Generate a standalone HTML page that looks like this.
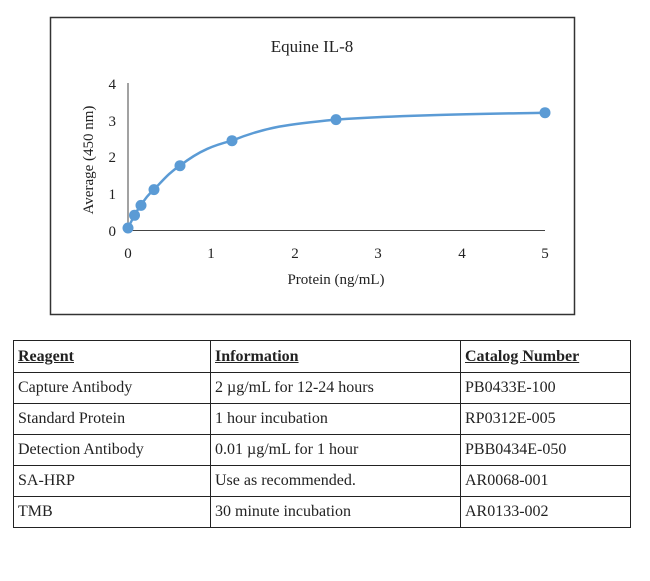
<!DOCTYPE html>
<html><head><style>
body{margin:0;background:#fff;width:650px;height:581px;position:relative;font-family:"Liberation Serif",serif;}
table{position:absolute;left:13px;top:340px;border-collapse:collapse;font-size:16px;color:#222;}
td{border:1.5px solid #222;height:30px;padding:0 0 0 4px;}
.h td{text-decoration:underline;font-weight:bold;height:31px;}
</style></head><body>
<svg width="650" height="340" style="position:absolute;left:0;top:0" font-family="Liberation Serif, serif">
<rect x="50.5" y="17.5" width="524" height="297" fill="#fff" stroke="#333" stroke-width="1.5"/>
<text x="312" y="52" font-size="17" text-anchor="middle" fill="#222">Equine IL-8</text>
<line x1="128" y1="83" x2="128" y2="231" stroke="#444" stroke-width="1"/>
<line x1="128" y1="230.5" x2="545" y2="230.5" stroke="#444" stroke-width="1"/>
<g font-size="15" fill="#222" text-anchor="end">
<text x="116" y="236">0</text><text x="116" y="199">1</text><text x="116" y="162">2</text><text x="116" y="126">3</text><text x="116" y="89">4</text></g>
<g font-size="15" fill="#222" text-anchor="middle">
<text x="128" y="258">0</text><text x="211" y="258">1</text><text x="295" y="258">2</text><text x="378" y="258">3</text><text x="462" y="258">4</text><text x="545" y="258">5</text></g>
<text x="336" y="284" font-size="15" text-anchor="middle" fill="#222">Protein (ng/mL)</text>
<text transform="translate(93,160) rotate(-90)" font-size="15" text-anchor="middle" fill="#222">Average (450 nm)</text>
<path d="M128,228 C131,222 133,218 134.5,215.3 C137,210 139,208 141,205.4 C146,197 150,193 154,189.6 C165,178 170,172 180,165.7 C200,150 215,145 232,140.7 C265,127 290,124 336,119.6 C400,115 480,114 545,112.7" fill="none" stroke="#5b9bd5" stroke-width="2.5"/>
<g fill="#5b9bd5">
<circle cx="128" cy="228" r="5.5"/><circle cx="134.5" cy="215.3" r="5.5"/><circle cx="141" cy="205.4" r="5.5"/><circle cx="154" cy="189.6" r="5.5"/><circle cx="180" cy="165.7" r="5.5"/><circle cx="232" cy="140.7" r="5.5"/><circle cx="336" cy="119.6" r="5.5"/><circle cx="545" cy="112.7" r="5.5"/></g>
</svg>
<table>
<tr class="h"><td style="width:192px">Reagent</td><td style="width:245px">Information</td><td style="width:165px">Catalog Number</td></tr>
<tr><td>Capture Antibody</td><td>2 µg/mL for 12-24 hours</td><td>PB0433E-100</td></tr>
<tr><td>Standard Protein</td><td>1 hour incubation</td><td>RP0312E-005</td></tr>
<tr><td>Detection Antibody</td><td>0.01 µg/mL for 1 hour</td><td>PBB0434E-050</td></tr>
<tr><td>SA-HRP</td><td>Use as recommended.</td><td>AR0068-001</td></tr>
<tr><td>TMB</td><td>30 minute incubation</td><td>AR0133-002</td></tr>
</table>
</body></html>
